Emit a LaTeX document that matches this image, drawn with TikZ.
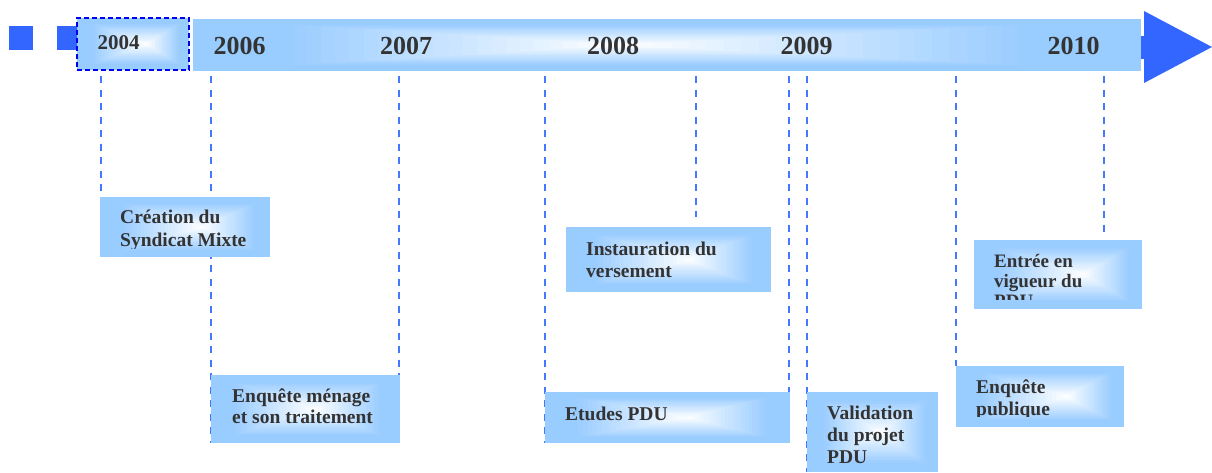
\documentclass[tikz,border=0pt]{standalone}
\usepackage{fontspec}
\setmainfont{Liberation Serif}
\usetikzlibrary{calc}
\definecolor{gblue}{RGB}{153,204,255}
\definecolor{dblue}{RGB}{51,102,255}
\definecolor{lineblue}{RGB}{70,120,255}
\definecolor{bordblue}{RGB}{0,0,240}
\definecolor{txtgray}{RGB}{51,51,51}
\pgfdeclarelayer{back}
\pgfdeclarelayer{lines}
\pgfsetlayers{back,lines,main}
\tikzset{
  gfill/.style={path picture={
    \path (path picture bounding box.south west) coordinate (gsw)
          (path picture bounding box.north east) coordinate (gne);
    \foreach \k in {0,...,29}{
      \pgfmathsetmacro\gf{1-\k/30}
      \pgfmathsetmacro\gp{min(100,125*\gf)}
      \fill[gblue!\gp!white] let \p1=(gsw), \p2=(gne),
          \p3=($(gsw)!#1!(gsw -| gne)$), \p4=($(gsw)!0.5!(gne)$) in
        ({\x3-\gf*(\x3-\x1)},{\y4-\gf*(\y4-\y1)}) rectangle
        ({\x3+\gf*(\x2-\x3)},{\y4+\gf*(\y2-\y4)});
    }}},
  gbox/.style={anchor=north west, inner sep=0pt, outer sep=0pt, gfill=#1},
  gbox/.default=0.58,
  sq/.style={fill=dblue, minimum size=24pt, inner sep=0pt, draw=none},
  conn/.style={draw=lineblue, line width=1.8pt, dash pattern=on 7pt off 6.5pt},
  btxt/.style={anchor=base west, align=left, inner sep=0pt, text=txtgray,
    font=\bfseries\fontsize{19.5pt}{22pt}\selectfont},
  ytxt/.style={anchor=base, inner sep=0pt, text=txtgray,
    font=\bfseries\fontsize{26pt}{30pt}\selectfont}
}
\begin{document}
\begin{tikzpicture}[x=1pt,y=-1pt]
\useasboundingbox (0,0) rectangle (1212,472);
\begin{pgfonlayer}{back}
\fill[white] (0,0) rectangle (1212,472);
\end{pgfonlayer}
% squares
\node[sq] (sq1) at (21,38) {};
\node[sq] (sq2) at (69,38) {};
% arrow head
\fill[dblue] (1136,36) rectangle (1146,59);
\fill[dblue] (1144,11) -- (1212,47) -- (1144,83) -- cycle;
% timeline bar
\node[gbox=0.45, minimum width=948pt, minimum height=52pt] (bar) at (193,19) {};
\node[gbox=0.62, minimum width=112pt, minimum height=52pt, draw=bordblue,
  line width=1.5pt, dash pattern=on 5pt off 3pt] (b2004) at (77,18) {};
\node[ytxt, font=\bfseries\fontsize{21pt}{24pt}\selectfont] (y2004) at (118.5,49.5) {2004};
\node[ytxt] (y2006) at (239.5,54) {2006};
\node[ytxt] (y2007) at (406,54) {2007};
\node[ytxt] (y2008) at (613,54) {2008};
\node[ytxt] (y2009) at (806.5,54) {2009};
\node[ytxt] (y2010) at (1073.5,54) {2010};
% event boxes
\node[gbox=0.6, minimum width=170pt, minimum height=60pt] (crea) at (100,197) {};
\node[gbox=0.55, minimum width=189pt, minimum height=68pt] (menage) at (211,375) {};
\node[gbox=0.6, minimum width=205pt, minimum height=65pt] (inst) at (566,227) {};
\node[gbox=0.58, minimum width=245pt, minimum height=51pt] (etudes) at (545,392) {};
\node[gbox=0.56, minimum width=131pt, minimum height=80pt] (valid) at (807,392) {};
\node[gbox=0.66, minimum width=168pt, minimum height=61pt] (pub) at (956,366) {};
\node[gbox=0.65, minimum width=168pt, minimum height=69pt] (entree) at (974,240) {};
% texts (anchor at the baseline of the last line)
\begin{scope}
\clip (crea.north west) rectangle ([yshift=9pt]crea.south east);
\node[btxt, font=\bfseries\fontsize{19.5pt}{23pt}\selectfont] (creaT) at (120,246) {Création du\\Syndicat Mixte};
\end{scope}
\node[btxt, font=\bfseries\fontsize{19.5pt}{21pt}\selectfont] (menageT) at (232,423) {Enquête ménage\\et son traitement};
\node[btxt] (instT) at (586,277) {Instauration du\\versement};
\node[btxt] (etudesT) at (565,420) {Etudes PDU};
\node[btxt] (validT) at (827,463) {Validation\\du projet\\PDU};
\begin{scope}
\clip (pub.north west) rectangle ([yshift=11pt]pub.south east);
\node[btxt] (pubT) at (976,415) {Enquête\\publique};
\end{scope}
\begin{scope}
\clip (entree.north west) rectangle ([yshift=10pt]entree.south east);
\node[btxt, font=\bfseries\fontsize{19pt}{20pt}\selectfont] (entreeT) at (994,307) {Entrée en\\vigueur du\\PDU};
\end{scope}
% connectors
\begin{pgfonlayer}{lines}
\coordinate (c1) at (101,76);
\coordinate (c2) at (211,76);
\coordinate (c3) at (399,76);
\coordinate (c4) at (545,76);
\coordinate (c5) at (696,76);
\coordinate (c6) at (789,76);
\coordinate (c7) at (807,76);
\coordinate (c8) at (956,76);
\coordinate (c9) at (1104,76);
\coordinate (e5) at (696,217);
\coordinate (e9) at (1104,235);
\draw[conn] (c1) -- (c1 |- crea.north);
\draw[conn] (c2) -- (c2 |- menage.south);
\draw[conn] (c3) -- (c3 |- menage.south);
\draw[conn] (c4) -- (c4 |- etudes.south);
\draw[conn] (c5) -- (e5);
\draw[conn] (c6) -- (c6 |- etudes.south);
\draw[conn] (c7) -- (c7 |- valid.south);
\draw[conn] (c8) -- (c8 |- pub.north);
\draw[conn] (c9) -- (e9);
\end{pgfonlayer}
\end{tikzpicture}
\end{document}
